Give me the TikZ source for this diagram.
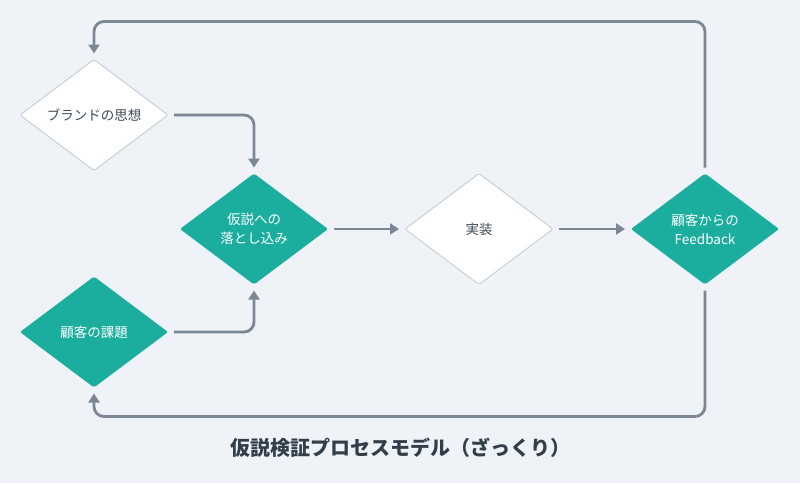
\documentclass[tikz,border=0pt]{standalone}
\usepackage{fontspec}
\setmainfont{Noto Sans CJK JP}
\usepackage{xcolor}
\usepackage{tikz}
\usetikzlibrary{arrows.meta,positioning,shapes.geometric}
\definecolor{bgcol}{HTML}{EFF2F6}
\definecolor{tealcol}{HTML}{1BAE9F}
\definecolor{linecol}{HTML}{7B8794}
\definecolor{edgecol}{HTML}{C8D0D9}
\definecolor{inkcol}{HTML}{3E4C59}
\definecolor{titlecol}{HTML}{323F4B}

\begin{document}
\begin{tikzpicture}[x=1pt, y=1pt,
  node distance=77pt, >={Triangle[length=9pt,width=11pt]},
  dia/.style={diamond, minimum width=148pt, minimum height=111pt, inner sep=0pt,
              outer sep=0pt, rounded corners=2pt, align=center,
              font=\fontsize{13.5}{19}\selectfont},
  lightdia/.style={dia, fill=white, draw=edgecol, line width=1pt, text=inkcol},
  tealdia/.style={dia, fill=tealcol, text=white},
  flow/.style={->, draw=linecol, line width=2.8pt, rounded corners=10pt,
               shorten <=6pt, shorten >=6pt}
]
\fill[bgcol] (0,0) rectangle (800,-483);
\useasboundingbox (0,0) rectangle (800,-483);

\node[lightdia] (brand) at (94,-115) {ブランドの思想};
\node[tealdia] (kadai) at (94,-332) {顧客の課題};
\node[tealdia] (idea) at (254,-229) {仮説への\\落とし込み};
\node[lightdia, right=of idea] (impl) {実装};
\node[tealdia, right=78pt of impl] (fb) {顧客からの\\Feedback};
\node[font=\bfseries\fontsize{20}{24}\selectfont, text=titlecol] (title) at (400,-448)
  {仮説検証プロセスモデル（ざっくり）};

\draw[flow] (brand.east) -| (idea.north);
\draw[flow] (kadai.east) -| (idea.south);
\draw[flow] (idea) -- (impl);
\draw[flow] (impl) -- (fb);
\draw[flow] (fb.north) |- ([yshift=38pt]brand.north) -- (brand.north);
\draw[flow] (fb.south) |- ([yshift=-29pt]kadai.south) -- (kadai.south);
\end{tikzpicture}
\end{document}
